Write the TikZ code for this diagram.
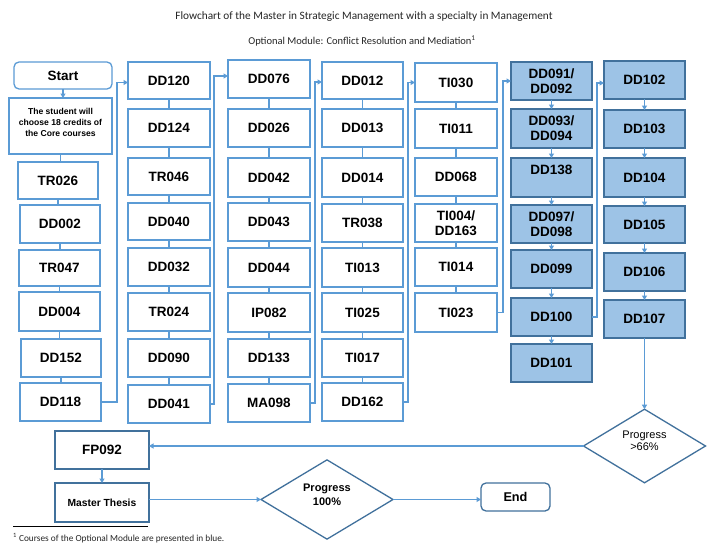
\documentclass[tikz,border=0pt]{standalone}
\usepackage{fontspec}
\setmainfont{Liberation Sans}
\newfontfamily\calib{Carlito}
\usetikzlibrary{shapes.geometric,arrows.meta}
\definecolor{lineblue}{HTML}{5B9BD5}
\definecolor{darkblue}{HTML}{41719C}
\definecolor{fillblue}{HTML}{9DC3E6}
\newcommand\placebox[7]{%
  \node[#1, minimum width={#4-#2}, minimum height={#5-#3}] (#6) at ({(#2+#4)/2},{(#3+#5)/2}) {#7};}
\tikzset{
  box/.style={draw=lineblue, line width=1.3pt, fill=white, inner sep=0pt, outer sep=0pt,
    font=\bfseries\fontsize{13.5}{15}\selectfont, align=center},
  optbox/.style={box, draw=darkblue, fill=fillblue},
  darkbox/.style={box, draw=darkblue},
  roundbox/.style={box, rounded corners=5pt},
  dia/.style={diamond, draw=darkblue, line width=1.3pt, fill=white, inner sep=0pt, outer sep=0pt, align=center},
  conn/.style={draw=lineblue, line width=1.1pt},
  arr/.style={conn, -{Triangle[length=4.5pt,width=5pt]}},
  titletext/.style={font=\calib\fontsize{10.5}{12}\selectfont, text=black!85}
}
\begin{document}
\begin{tikzpicture}[x=1pt,y=-1pt]
\useasboundingbox (0,0) rectangle (716,557);
\fill[white] (0,0) rectangle (716,557);
% titles
\node[titletext, font=\calib\fontsize{11.3}{13}\selectfont] (t1) at (364,17) {Flowchart of the Master in Strategic Management with a specialty in Management};
\node[titletext] (t2) at (362,41) {Optional Module: Conflict Resolution and Mediation\textsuperscript{1}};
% column 1
\placebox{roundbox}{14}{62}{112}{89}{start}{Start}
\placebox{box,font=\bfseries\fontsize{8.6}{11}\selectfont}{9}{98}{112}{154}{stud}{The student will\\choose 18 credits of\\the Core courses\\[-3pt]\mbox{}}
\placebox{box}{18}{162}{98}{199}{TR026}{TR026}
\placebox{box}{20}{205}{100}{243}{DD002}{DD002}
\placebox{box}{19}{250}{100}{286}{TR047}{TR047}
\placebox{box}{19}{292}{100}{331}{DD004}{DD004}
\placebox{box}{21}{339}{101}{377}{DD152}{DD152}
\placebox{box}{20}{383}{101}{421}{DD118}{DD118}
% column 2
\placebox{box}{128}{62}{210}{99}{DD120}{DD120}
\placebox{box}{128}{109}{210}{147}{DD124}{DD124}
\placebox{box}{128}{158}{210}{195}{TR046}{TR046}
\placebox{box}{128}{203}{210}{240}{DD040}{DD040}
\placebox{box}{128}{248}{210}{286}{DD032}{DD032}
\placebox{box}{128}{293}{210}{331}{TR024}{TR024}
\placebox{box}{128}{339}{210}{377}{DD090}{DD090}
\placebox{box}{128}{385}{210}{423}{DD041}{DD041}
% column 3
\placebox{box}{228}{60}{310}{98}{DD076}{DD076}
\placebox{box}{228}{109}{310}{147}{DD026}{DD026}
\placebox{box}{228}{158}{310}{197}{DD042}{DD042}
\placebox{box}{228}{203}{310}{241}{DD043}{DD043}
\placebox{box}{228}{248}{310}{287}{DD044}{DD044}
\placebox{box}{228}{293}{310}{332}{IP082}{IP082}
\placebox{box}{228}{339}{310}{377}{DD133}{DD133}
\placebox{box}{228}{384}{310}{422}{MA098}{MA098}
% column 4
\placebox{box}{322}{62}{403}{99}{DD012}{DD012}
\placebox{box}{322}{109}{403}{147}{DD013}{DD013}
\placebox{box}{322}{158}{403}{197}{DD014}{DD014}
\placebox{box}{322}{204}{403}{242}{TR038}{TR038}
\placebox{box}{322}{248}{403}{287}{TI013}{TI013}
\placebox{box}{322}{293}{403}{332}{TI025}{TI025}
\placebox{box}{322}{339}{403}{377}{TI017}{TI017}
\placebox{box}{322}{383}{403}{421}{DD162}{DD162}
% column 5
\placebox{box}{415}{63}{497}{102}{TI030}{TI030}
\placebox{box}{415}{109}{497}{148}{TI011}{TI011}
\placebox{box}{415}{158}{497}{196}{DD068}{DD068}
\placebox{box}{415}{204}{497}{242}{TI004}{TI004/\\DD163}
\placebox{box}{415}{248}{497}{286}{TI014}{TI014}
\placebox{box}{415}{293}{497}{332}{TI023}{TI023}
% column 6 (optional)
\placebox{optbox}{511}{62}{592}{100}{DD091}{DD091/\\DD092}
\placebox{optbox}{511}{109}{592}{148}{DD093}{DD093/\\DD094}
\placebox{optbox}{511}{158}{592}{197}{DD138}{DD138\\\mbox{}}
\placebox{optbox}{511}{205}{592}{243}{DD097}{DD097/\\DD098}
\placebox{optbox}{511}{250}{592}{288}{DD099}{DD099}
\placebox{optbox}{511}{298}{592}{336}{DD100}{DD100}
\placebox{optbox}{511}{344}{592}{382}{DD101}{DD101}
% column 7 (optional)
\placebox{optbox}{604}{61}{685}{99}{DD102}{DD102}
\placebox{optbox}{604}{110}{685}{148}{DD103}{DD103}
\placebox{optbox}{604}{158}{685}{197}{DD104}{DD104}
\placebox{optbox}{604}{206}{685}{243}{DD105}{DD105}
\placebox{optbox}{604}{253}{685}{291}{DD106}{DD106}
\placebox{optbox}{604}{300}{685}{338}{DD107}{DD107}
% bottom
\placebox{darkbox}{55}{431}{149}{469}{FP092}{FP092}
\placebox{darkbox,font=\bfseries\fontsize{10.3}{12}\selectfont}{55}{483}{149}{522}{thesis}{Master Thesis}
\placebox{darkbox,rounded corners=5pt,font=\bfseries\fontsize{12.7}{14}\selectfont}{481}{483}{550}{511}{end}{End}
\node[dia, minimum width=122, minimum height=72, font=\fontsize{11}{12.5}\selectfont] (d66) at (644.5,446) {Progress\\[-1pt]>66\%\\[-2pt]\mbox{}};
\node[dia, minimum width=132, minimum height=73, font=\bfseries\fontsize{11}{14}\selectfont] (d100) at (327,499.5) {Progress\\100\%\\[-4pt]\mbox{}};
% chains within columns
\draw[arr] (start.south) -- (start.south |- stud.north);
\foreach \a/\b in {stud/TR026,TR026/DD002,DD002/TR047,TR047/DD004,DD004/DD152,DD152/DD118,
  DD120/DD124,DD124/TR046,TR046/DD040,DD040/DD032,DD032/TR024,TR024/DD090,DD090/DD041,
  DD076/DD026,DD026/DD042,DD042/DD043,DD043/DD044,DD044/IP082,IP082/DD133,DD133/MA098,
  DD012/DD013,DD013/DD014,DD014/TR038,TR038/TI013,TI013/TI025,TI025/TI017,TI017/DD162,
  TI030/TI011,TI011/DD068,DD068/TI004,TI004/TI014,TI014/TI023}
  \draw[conn] (\a.south) -- (\a.south |- \b.north);
\foreach \a/\b in {DD091/DD093,DD093/DD138,DD138/DD097,DD097/DD099,DD099/DD100,DD100/DD101,
  DD102/DD103,DD103/DD104,DD104/DD105,DD105/DD106,DD106/DD107}
  \draw[arr] (\a.south) -- (\a.south |- \b.north);
% column transitions
\draw[arr] (DD118.east) -- ++(16,0) |- ([yshift=-2pt]DD120.west);
\draw[arr] (DD041.east) -- ++(4,0) |- ([yshift=3pt]DD076.west);
\draw[arr] (MA098.east) -- ++(5,0) |- ([yshift=-1.5pt]DD012.west);
\draw[arr] (DD162.east) -- ++(5,0) |- (TI030.west);
\draw[arr] (TI023.east) -- ++(6,0) |- (DD091.west);
\draw[arr] (DD100.east) -- ++(5,0) |- ([yshift=-3pt]DD102.west);
% bottom flow
\draw[arr] (DD107.south) -- (DD107.south |- d66.north);
\draw[arr] (d66.west) -- (d66.west -| FP092.east);
\draw[arr] (FP092.south) -- (thesis.north);
\draw[arr] (thesis.east |- d100.west) -- (d100.west);
\draw[arr] (d100.east) -- (d100.east -| end.west);
% footnote
\draw[black, line width=0.6pt] (13,526) coordinate (fn1) -- (148,526) coordinate (fn2);
\node[anchor=west, inner sep=0pt, font=\calib\fontsize{9.3}{10}\selectfont, text=black!85] (fn) at (13,538) {\textsuperscript{1} Courses of the Optional Module are presented in blue.};
\end{tikzpicture}
\end{document}
